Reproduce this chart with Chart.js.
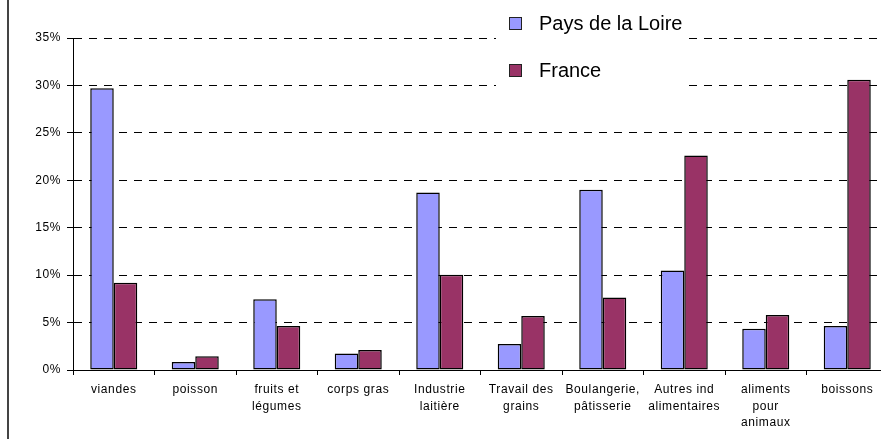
<!DOCTYPE html>
<html>
<head>
<meta charset="utf-8">
<script src="https://cdn.jsdelivr.net/npm/chart.js@4/dist/chart.umd.min.js"></script>
<style>
  html, body { margin: 0; padding: 0; background: #fff; overflow: hidden; }
  #wrap { width: 895px; height: 439px; }
</style>
</head>
<body>
<div id="wrap"><canvas id="chart" width="895" height="439"></canvas></div>
<script>
// --- données -------------------------------------------------------------
const categories = [
  'viandes', 'poisson', ['fruits et', 'légumes'], 'corps gras',
  ['Industrie', 'laitière'], ['Travail des', 'grains'],
  ['Boulangerie,', 'pâtisserie'], ['Autres ind', 'alimentaires'],
  ['aliments', 'pour', 'animaux'], 'boissons'
];
const seriesNames = ['Pays de la Loire', 'France'];
const paysDeLaLoire = [29.7, 0.85, 7.45, 1.75, 18.7, 2.75, 19.0, 10.5, 4.35, 4.65];
const france = [9.2, 1.45, 4.65, 2.1, 10.05, 5.7, 7.65, 22.6, 5.8, 30.6];
const yTicks = [0, 5, 10, 15, 20, 25, 30, 35];
const colors = ['#9999ff', '#993366'];

// bordure gauche du cadre + espacement des lettres des axes
const frameLine = {
  id: 'frameLine',
  beforeDraw(chart) {
    const ctx = chart.ctx;
    ctx.save();
    ctx.fillStyle = '#fff';
    ctx.fillRect(0, 0, chart.width, chart.height);
    ctx.fillStyle = '#444';
    ctx.fillRect(7, 0, 2, chart.height);
    ctx.restore();
    ctx.letterSpacing = '0.6px';
  }
};

// légende posée sur la zone du graphique, fond blanc
const boxLegend = {
  id: 'boxLegend',
  afterDatasetsDraw(chart) {
    const ctx = chart.ctx;
    ctx.save();
    ctx.letterSpacing = '0px';
    ctx.fillStyle = '#fff';
    ctx.fillRect(496, 4, 192, 90);
    ctx.font = '20px "Liberation Sans", Arial, sans-serif';
    ctx.textBaseline = 'alphabetic';
    chart.data.datasets.forEach(function (ds, i) {
      const y = 17.5 + i * 47;
      ctx.fillStyle = ds.backgroundColor;
      ctx.fillRect(509.5, y, 12, 12);
      ctx.strokeStyle = '#222';
      ctx.lineWidth = 1;
      ctx.strokeRect(509.5, y, 12, 12);
      ctx.fillStyle = '#000';
      ctx.fillText(ds.label, 539, y + 12);
    });
    ctx.restore();
  }
};

new Chart(document.getElementById('chart'), {
  type: 'bar',
  data: {
    labels: categories,
    datasets: [
      { label: seriesNames[0], data: paysDeLaLoire, backgroundColor: colors[0] },
      { label: seriesNames[1], data: france, backgroundColor: colors[1] }
    ]
  },
  options: {
    responsive: false,
    animation: false,
    layout: { padding: { top: 38, right: 7, left: 0, bottom: 0 } },
    datasets: {
      bar: {
        categoryPercentage: 0.577,
        barPercentage: 1,
        borderColor: '#000',
        borderWidth: 1.5,
        borderSkipped: false
      }
    },
    plugins: {
      legend: { display: false },
      tooltip: { enabled: false }
    },
    scales: {
      x: {
        afterFit: function (s) { s.height = 69; },
        grid: {
          drawOnChartArea: false,
          drawTicks: true,
          tickLength: 5,
          tickColor: '#000',
          offset: true
        },
        border: { display: true, color: '#000', width: 1 },
        ticks: {
          color: '#000',
          maxRotation: 0,
          autoSkip: false,
          padding: 6,
          font: { family: '"Liberation Sans", Arial, sans-serif', size: 12, lineHeight: 1.4 }
        }
      },
      y: {
        min: 0,
        max: 35,
        afterFit: function (s) { s.width = 73; },
        afterBuildTicks: function (s) { s.ticks = yTicks.map(function (v) { return { value: v }; }); },
        grid: {
          color: '#000',
          lineWidth: 1,
          tickLength: 6,
          tickColor: '#000'
        },
        border: { display: true, color: '#000', width: 1, dash: [8, 7] },
        ticks: {
          color: '#000',
          padding: 6,
          font: { family: '"Liberation Sans", Arial, sans-serif', size: 12 },
          callback: function (v) { return v + '%'; }
        }
      }
    }
  },
  plugins: [frameLine, boxLegend]
});
</script>
</body>
</html>
